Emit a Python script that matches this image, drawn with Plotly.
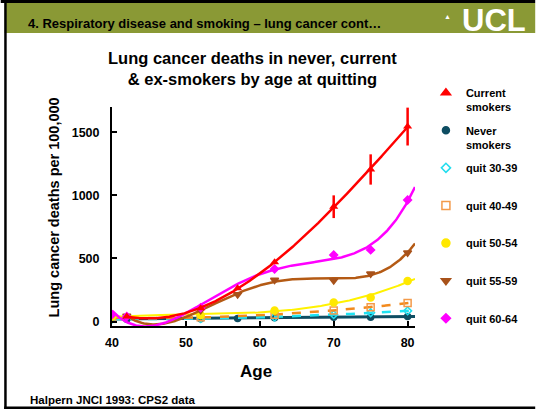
import numpy as np
import plotly.graph_objects as go

# ---------------- data ----------------
current_age = [42, 52, 57, 62, 70, 75, 80]
current_val = [40, 105, 265, 470, 910, 1205, 1545]
current_err = [0, 0, 0, 0, 90, 120, 150]

never_age = [40, 42, 52, 57, 62, 70, 75, 80]
never_val = [22, 18, 22, 25, 30, 35, 35, 40]

q3039_age = [40, 52, 62, 70, 75, 80]
q3039_val = [20, 25, 35, 55, 70, 85]

q4049_age = [40, 52, 62, 70, 75, 80]
q4049_val = [30, 35, 55, 87, 114, 148]

q5054_age = [40, 52, 62, 70, 75, 80]
q5054_val = [40, 50, 88, 152, 190, 322]

q5559_age = [42, 52, 57, 62, 70, 75, 80]
q5559_val = [45, 90, 215, 330, 325, 378, 546]

q6064_age = [40, 42, 52, 62, 70, 75, 80]
q6064_val = [55, 40, 110, 417, 528, 568, 963]

x_ticks = [40, 50, 60, 70, 80]
y_ticks = [0, 500, 1000, 1500]

FONT = "Arial, Liberation Sans, sans-serif"

# ---------------- layout helpers (pixels -> paper) ----------------
W_IMG, H_IMG = 536, 410
L, R, T, B = 112, 119, 107, 84
PW = W_IMG - L - R
PH = H_IMG - T - B


def px(p):
    return (p - L) / PW


def py(p):
    return (H_IMG - B - p) / PH


def trend(ages, vals, deg, x0, x1):
    poly = np.polynomial.Polynomial.fit(ages, vals, deg)
    xs = np.linspace(x0, x1, 300)
    return xs, poly(xs)


series = [
    # name, ages, vals, deg, x0, x1, line colour, dash, width, marker symbol, marker colour, size
    ("Never<br>smokers", never_age, never_val, 2, 40, 81, "#0E4D62", "solid", 3, "circle", "#0E4D62", 7),
    ("quit 30-39<br> ", q3039_age, q3039_val, 2, 40, 81, "#1FE3F2", "dash", 2.5, "diamond-open", "#22DDEE", 7),
    ("quit 40-49<br> ", q4049_age, q4049_val, 2, 40, 81, "#F28A1E", "dash", 2.5, "square-open", "#F39A4A", 8),
    ("quit 50-54<br> ", q5054_age, q5054_val, 3, 40, 81, "#FFF200", "solid", 2, "circle", "#FFE800", 8),
    ("quit 55-59<br> ", q5559_age, q5559_val, 4, 42, 81, "#B45A14", "solid", 2.5, "triangle-down", "#A8521A", 8),
    ("quit 60-64<br> ", q6064_age, q6064_val, 4, 40, 81, "#FF00FF", "solid", 2.5, "diamond", "#FF00FF", 7),
]

fig = go.Figure()

legend_items = []
for i, (name, ages, vals, deg, x0, x1, lc, dash, lw, sym, mc, ms) in enumerate(series):
    xs, ys = trend(ages, vals, deg, x0, x1)
    fig.add_trace(go.Scatter(x=xs, y=ys, mode="lines", showlegend=False,
                             line=dict(color=lc, width=lw, dash=dash), hoverinfo="skip"))
    fig.add_trace(go.Scatter(x=ages, y=vals, mode="markers", showlegend=False,
                             marker=dict(symbol=sym, color=mc, size=ms - 1,
                                         line=dict(color=mc, width=1.5))))
    legend_items.append((name, sym, mc, ms))

# current smokers
xs, ys = trend(current_age, current_val, 3, 42, 80)
fig.add_trace(go.Scatter(x=xs, y=ys, mode="lines", showlegend=False,
                         line=dict(color="#FF0000", width=2.5), hoverinfo="skip"))
fig.add_trace(go.Scatter(x=current_age, y=current_val, mode="markers", showlegend=False,
                         marker=dict(symbol="triangle-up", color="#FF0000", size=8),
                         error_y=dict(type="data", array=current_err, symmetric=True,
                                      width=0, thickness=2.5, color="#FF0000")))

# legend-only entries
legend_items = [("Current<br>smokers", "triangle-up", "#FF0000", 8)] + legend_items
for k, (name, sym, mc, ms) in enumerate(legend_items):
    fig.add_trace(go.Scatter(x=[None], y=[None], mode="markers", name=name,
                             legendgroup=f"g{k}",
                             marker=dict(symbol=sym, color=mc, size=ms,
                                         line=dict(color=mc, width=1.5))))

shapes = [
    dict(type="rect", xref="paper", yref="paper", x0=px(4), x1=px(W_IMG + 2),
         y0=py(33), y1=py(3), fillcolor="#8A9935", line=dict(width=0), layer="below"),
    dict(type="rect", xref="paper", yref="paper", x0=px(0), x1=px(W_IMG + 2),
         y0=py(3), y1=py(-2), fillcolor="black", line=dict(width=0), layer="below"),
    dict(type="rect", xref="paper", yref="paper", x0=px(3.5), x1=px(6),
         y0=py(409), y1=py(0), fillcolor="black", line=dict(width=0), layer="below"),
    dict(type="rect", xref="paper", yref="paper", x0=px(3.5), x1=px(W_IMG + 2),
         y0=py(409), y1=py(406.5), fillcolor="black", line=dict(width=0), layer="below"),
]

annotations = [
    dict(text="4. Respiratory disease and smoking – lung cancer cont…", xref="paper", yref="paper",
         x=px(25), y=py(23), xanchor="left", yanchor="middle", showarrow=False,
         font=dict(family=FONT, size=13, color="black", weight="bold")),
    dict(text="UCL", xref="paper", yref="paper", x=px(531), y=py(21), xanchor="right",
         yanchor="middle", showarrow=False,
         font=dict(family=FONT, size=31, color="white", weight="bold")),
    dict(text="▲", xref="paper", yref="paper", x=px(450), y=py(16), xanchor="center",
         yanchor="middle", showarrow=False,
         font=dict(family=FONT, size=7, color="white")),
    dict(text="Lung cancer deaths in never, current<br>& ex-smokers by age at quitting",
         xref="paper", yref="paper", x=px(253), y=py(68), xanchor="center", yanchor="middle",
         showarrow=False,
         font=dict(family=FONT, size=16.5, color="black", weight="bold")),
    dict(text="Lung cancer deaths per 100,000", xref="paper", yref="paper", x=px(54), y=py(207),
         xanchor="center", yanchor="middle", textangle=-90, showarrow=False,
         font=dict(family=FONT, size=14.5, color="black", weight="bold")),
    dict(text="Age", xref="paper", yref="paper", x=px(257), y=py(371), xanchor="center",
         yanchor="middle", showarrow=False,
         font=dict(family=FONT, size=17, color="black", weight="bold")),
    dict(text="Halpern JNCI 1993: CPS2 data", xref="paper", yref="paper", x=px(27), y=py(400),
         xanchor="left", yanchor="middle", showarrow=False,
         font=dict(family=FONT, size=11.5, color="black", weight="bold")),
]

fig.update_layout(
    width=W_IMG, height=H_IMG,
    margin=dict(l=L, r=R, t=T, b=B, pad=0),
    paper_bgcolor="white", plot_bgcolor="white",
    font=dict(family=FONT, color="black"),
    shapes=shapes, annotations=annotations,
    showlegend=True,
    legend=dict(x=px(428), y=py(79), xanchor="left", yanchor="top",
                bgcolor="rgba(0,0,0,0)", tracegroupgap=6, valign="top", maxheight=400,
                font=dict(family=FONT, size=11, color="black", weight="bold")),
    xaxis=dict(range=[40, 81], tickvals=x_ticks, ticks="inside", ticklen=5, tickwidth=1.5,
               tickcolor="black", showline=True, linecolor="black", linewidth=2,
               showgrid=False, zeroline=False, ticklabelstandoff=4,
               tickfont=dict(family=FONT, size=12.5, color="black", weight="bold")),
    yaxis=dict(range=[-35, 1700], tickvals=y_ticks, ticks="inside", ticklen=5, tickwidth=1.5,
               tickcolor="black", showline=True, linecolor="black", linewidth=2,
               showgrid=False, zeroline=False, ticklabelstandoff=8,
               tickfont=dict(family=FONT, size=12.5, color="black", weight="bold")),
)

fig.write_html("out.html", config={"displayModeBar": False},
               post_script="document.body.style.margin='0';document.body.style.overflow='hidden';")
